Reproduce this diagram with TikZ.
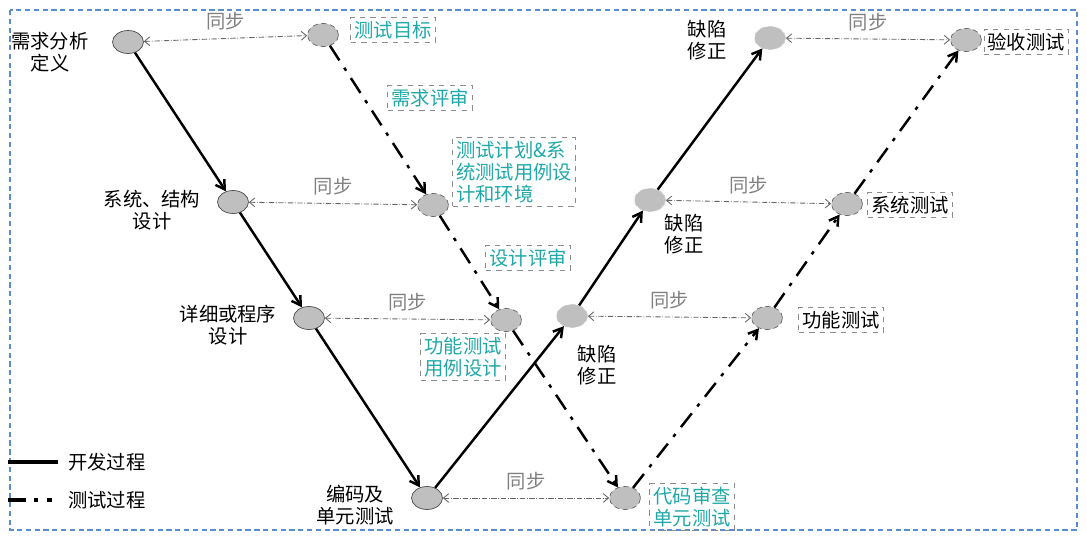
\documentclass[tikz,border=0pt]{standalone}
\usepackage{fontspec}
\setmainfont{Noto Sans CJK SC}
\usetikzlibrary{positioning,arrows.meta,shapes}

\begin{document}
\begin{tikzpicture}[
    x=0.02cm, y=-0.02cm,
    font=\fontsize{11}{12.5}\selectfont,
    dev/.style={
    	ellipse, draw=black!70, fill=black!25,
    	minimum width=0.62cm, minimum height=0.46cm, inner sep=0pt
    }, tst/.style={
    	ellipse, draw=black!60, densely dashed, fill=black!25,
    	minimum width=0.62cm, minimum height=0.46cm, inner sep=0pt
    }, fix/.style={
    	ellipse, draw=black!20, densely dashed, fill=black!25,
    	minimum width=0.62cm, minimum height=0.46cm, inner sep=0pt
    }, lbl/.style={
    	align=center, inner sep=1pt
    }, tag/.style={
    	draw=black!45, dashed, align=left, inner sep=2pt
    }, pil/.style={
    	-{Straight Barb[length=5pt,width=6pt]},
    	line width=1.4pt
    }, tpil/.style={
    	pil, dash pattern=on 10pt off 5pt on 2pt off 5pt
    }, sync/.style={
    	{Straight Barb[length=3pt,width=5pt]}-{Straight Barb[length=3pt,width=5pt]},
    	densely dashdotted, black!60, line width=0.5pt
    }]
    \definecolor{my-teal}{RGB}{32, 168, 168}
    \definecolor{my-frame}{RGB}{90, 140, 210}

    \useasboundingbox (0,0) rectangle (1087,541);
    \draw[my-frame, densely dashed, line width=0.6pt] (10,10) rectangle (1077,530);

    % development side
    \node[dev] (req) at (128,42) {};
    \node[dev] (arch) at (233,202) {};
    \node[dev] (detail) at (309,318) {};
    \node[dev] (code) at (427,498) {};
    \node[fix] (fix1) at (572,316) {};
    \node[fix] (fix2) at (650,200) {};
    \node[fix] (fix3) at (770,38) {};

    % test side
    \node[tst] (goal) at (323,35) {};
    \node[tst] (plan) at (433,205) {};
    \node[tst] (fdesign) at (506,320) {};
    \node[tst] (unit) at (625,498) {};
    \node[tst] (ftest) at (767,318) {};
    \node[tst] (stest) at (847,204) {};
    \node[tst] (atest) at (966,40) {};

    \node[lbl] (reqL) at (50,52) {需求分析\\定义};
    \node[lbl] (archL) at (152,210) {系统、结构\\设计};
    \node[lbl] (detailL) at (228,325) {详细或程序\\设计};
    \node[lbl] (codeL) at (355,505) {编码及\\单元测试};
    \node[lbl] (fix1L) at (597,365) {缺陷\\修正};
    \node[lbl] (fix2L) at (684,234) {缺陷\\修正};
    \node[lbl] (fix3L) at (707,40) {缺陷\\修正};

    \node[tag, text=my-teal] (goalT) at (393,30) {测试目标};
    \node[tag, text=my-teal] (reviewT) at (430,98) {需求评审};
    \node[tag, text=my-teal] (planT) at (514,172) {测试计划\&系\\统测试用例设\\计和环境};
    \node[tag, text=my-teal] (dreviewT) at (528,258) {设计评审};
    \node[tag, text=my-teal] (fdesignT) at (463,357) {功能测试\\用例设计};
    \node[tag, text=my-teal] (unitT) at (692,507) {代码审查\\单元测试};
    \node[tag] (atestT) at (1026,42) {验收测试};
    \node[tag] (stestT) at (910,205) {系统测试};
    \node[tag] (ftestT) at (841,320) {功能测试};

    \draw[pil] (req) -- (arch);
    \draw[pil] (arch) -- (detail);
    \draw[pil] (detail) -- (code);
    \draw[pil] (code) -- (fix1);
    \draw[pil] (fix1) -- (fix2);
    \draw[pil] (fix2) -- (fix3);

    \draw[tpil] (goal) -- (plan);
    \draw[tpil] (plan) -- (fdesign);
    \draw[tpil] (fdesign) -- (unit);
    \draw[tpil] (unit) -- (ftest);
    \draw[tpil] (ftest) -- (stest);
    \draw[tpil] (stest) -- (atest);

    \foreach \a/\b in {req/goal, arch/plan, detail/fdesign, code/unit, fix1/ftest, fix2/stest, fix3/atest}
        \draw[sync] (\a) -- node[above=1pt, text=black!50] {同步} (\b);

    % legend
    \coordinate (devA) at (8,462);
    \coordinate (devB) at (58,462);
    \coordinate (tstA) at (8,500);
    \coordinate (tstB) at (52,500);
    \node[anchor=west] (devL) at (62,462) {开发过程};
    \node[anchor=west] (tstL) at (62,500) {测试过程};
    \draw[line width=1.8pt] (devA) -- (devB);
    \draw[line width=1.8pt, dash pattern=on 10pt off 5pt on 2pt off 5pt] (tstA) -- (tstB);
\end{tikzpicture}
\end{document}
